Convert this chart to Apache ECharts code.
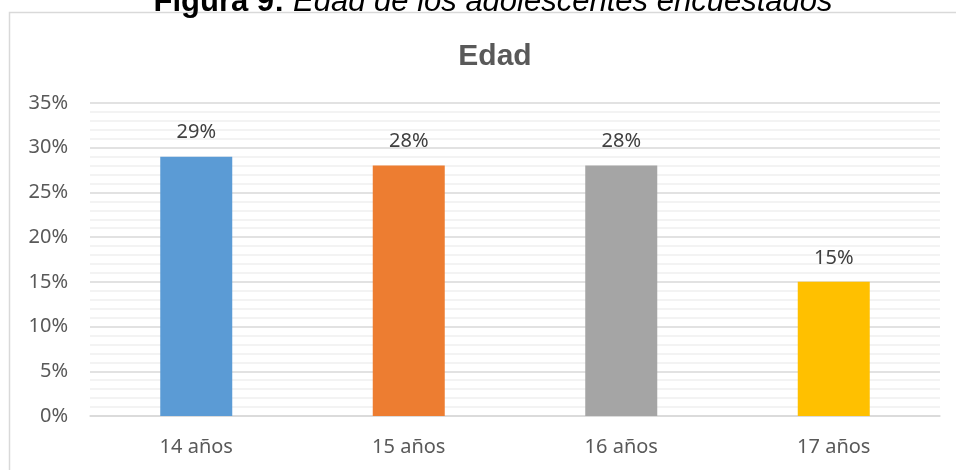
<!DOCTYPE html>
<html>
<head>
<meta charset="utf-8">
<script src="https://cdn.jsdelivr.net/npm/echarts@6/dist/echarts.min.js"></script>
<style>
  html, body { margin: 0; padding: 0; background: #fff; }
  #chart { width: 956px; height: 470px; }
</style>
</head>
<body>
<div id="chart"></div>
<script>
// data
var categories = ['14 años', '15 años', '16 años', '17 años']
var values = [29, 28, 28, 15]
var barColors = ['#5B9BD5', '#ED7D31', '#A5A5A5', '#FFC000']
var yTicks = { min: 0, max: 35, step: 5 }

var chart = echarts.init(document.getElementById('chart'))

chart.setOption({
  animation: false,
  textStyle: { fontFamily: 'Noto Sans' },
  title: {
    text: 'Edad',
    left: 490,
    top: 37,
    textAlign: 'center',
    textStyle: {
      fontFamily: 'Liberation Sans',
      fontSize: 30,
      fontWeight: 'bold',
      color: '#595959'
    }
  },
  graphic: [
    {
      type: 'rect',
      silent: true,
      shape: { x: 9.5, y: 12.5, width: 980, height: 500 },
      style: { fill: 'none', stroke: '#D9D9D9', lineWidth: 1.5 }
    },
    {
      type: 'text',
      silent: true,
      x: 493,
      y: 18,
      style: {
        text: '{b|Figura 9: }{i|Edad de los adolescentes encuestados}',
        textAlign: 'center',
        textVerticalAlign: 'bottom',
        rich: {
          b: { fontFamily: 'Liberation Sans', fontSize: 31, fontWeight: 'bold', fill: '#000' },
          i: { fontFamily: 'Liberation Sans', fontSize: 31, fontStyle: 'italic', fill: '#000' }
        }
      }
    }
  ],
  grid: {
    left: 90,
    right: 16,
    top: 103,
    bottom: 54
  },
  xAxis: {
    type: 'category',
    data: categories,
    axisTick: { show: false },
    axisLine: { lineStyle: { color: '#D9D9D9', width: 1.5 } },
    axisLabel: {
      color: '#595959',
      fontSize: 20,
      margin: 21
    }
  },
  yAxis: {
    type: 'value',
    min: yTicks.min,
    max: yTicks.max,
    interval: yTicks.step,
    axisLine: { show: false },
    axisTick: { show: false },
    axisLabel: {
      color: '#595959',
      fontSize: 20,
      margin: 22,
      formatter: '{value}%'
    },
    splitLine: { lineStyle: { color: '#D9D9D9', width: 1.5 } },
    minorTick: { show: false, splitNumber: 5 },
    minorSplitLine: { show: true, lineStyle: { color: '#F0F0F0', width: 1.5 } }
  },
  series: [{
    type: 'bar',
    barWidth: 72,
    data: values.map(function (v, i) {
      return { value: v, itemStyle: { color: barColors[i] } }
    }),
    label: {
      show: true,
      position: 'top',
      distance: 14,
      color: '#404040',
      fontSize: 20,
      formatter: '{c}%'
    }
  }]
})
</script>
</body>
</html>
